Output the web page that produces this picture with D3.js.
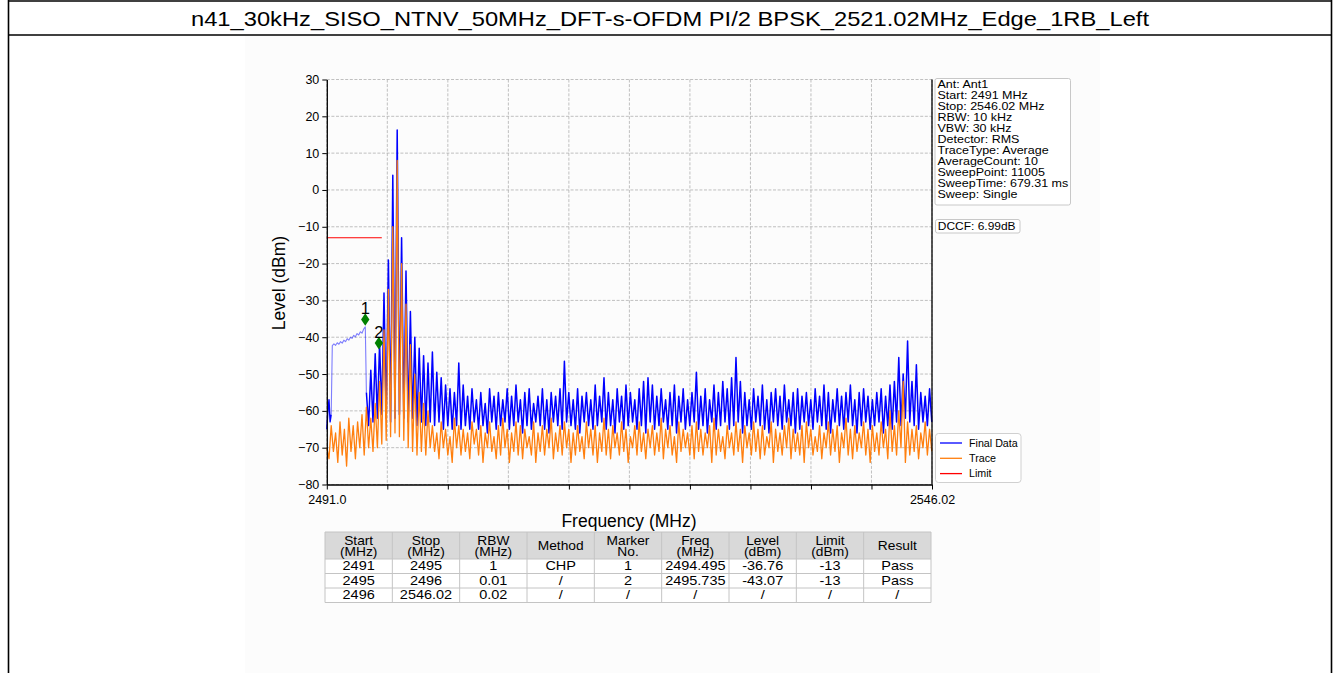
<!DOCTYPE html>
<html>
<head>
<meta charset="utf-8">
<script src="https://cdn.jsdelivr.net/npm/d3@7"></script>
<style>
  html, body { margin: 0; padding: 0; background: #ffffff; }
  svg { display: block; }
  text { font-family: "Liberation Sans", Arial, Helvetica, sans-serif; fill: #000; }
</style>
</head>
<body>
<svg id="chart" width="1340" height="673"></svg>
<script>
// ---------------- DATA ----------------
const titleText = "n41_30kHz_SISO_NTNV_50MHz_DFT-s-OFDM PI/2 BPSK_2521.02MHz_Edge_1RB_Left";

const freqDomain = [2491.0, 2546.02];
const levelDomain = [-80, 30];
const yTicks = [30, 20, 10, 0, -10, -20, -30, -40, -50, -60, -70, -80];
const xTicks = [2491.0, 2496.502, 2502.004, 2507.506, 2513.008, 2518.51, 2524.012, 2529.514, 2535.016, 2540.518, 2546.02];
const xTickLabels = ["2491.0", "", "", "", "", "", "", "", "", "", "2546.02"];

// Final Data: head noise (start 2491.0, step 0.1 MHz)
const headStart = 2491.0, headStep = 0.1;
const headLevels = [-65, -60, -57, -63, -61];

// Final Data: CHP segment (start 2491.5, step 0.15 MHz)
const chpStart = 2491.5, chpStep = 0.15;
const chpLevels = [-42.3, -41.8, -42.2, -41.5, -41.9, -41.2, -41.6, -40.8, -41.2, -40.4, -40.8,
  -40.0, -40.3, -39.5, -39.9, -39.0, -39.4, -38.5, -38.9, -37.8, -37.2];

// Final Data: comb (start 2494.6, step 0.2 MHz)
const combStart = 2494.6, combStep = 0.2;
const combLevels = [
  -55,-64,-49,-63,-44.5,-62,-41.5,-61,-28,-62,-19,-63,4,-62,16.3,-61,-13,-62,-22,-63,
  -33,-62,-40,-64,-43,-63,-45,-64,-47,-63,-44,-64,-49.5,-63,-51,-65,-53,-64,-54,-65,
  -55,-64,-47,-65,
  -53,-64,-56,-65,-54,-63,-57,-65,-55,-64,-58,-66,-54,-63,-56,-65,-55,-64,-57,-63,
  -54,-65,-56,-64,-53,-63,-57,-66,-55,-64,-54,-65,-58,-63,-56,-64,-54,-65,-57,-66,
  -55,-63,-56,-64,-54,-65,-46.5,-63,-55,-64,-57,-65,-54,-66,-56,-63,-55,-64,-57,-65,
  -53,-64,-56,-63,-51,-65,-55,-64,-57,-66,-54,-63,-56,-65,-53,-64,-55,-63,-57,-65,
  -54,-64,-52,-66,-51,-63,-53,-65,-56,-64,-54,-63,-57,-65,-55,-64,-53,-66,-56,-63,
  -54,-65,-57,-64,-55,-63,-49.5,-65,-56,-64,-54,-66,-57,-63,-53,-65,-55,-64,-52,-63,
  -54,-65,-51,-64,-45.5,-63,-52,-66,-55,-64,-57,-65,-54,-63,-56,-64,-53,-65,-57,-66,
  -55,-63,-54,-64,-56,-65,-53,-63,-57,-64,-55,-66,-54,-65,-56,-63,-55,-64,-57,-65,
  -54,-63,-56,-64,-53,-65,-55,-66,-57,-63,-54,-64,-56,-65,-55,-63,-53,-64,-57,-66,
  -55,-64,-54,-63,-56,-65,-57,-64,-55,-63,-54,-66,-56,-64,-53,-65,-52,-63,-45.5,-64,
  -50,-62,-41,-63,-52,-64,-47.5,-65,-55,-63,-56,-64,-54,-63
];

// Trace (start 2491.0, step 0.2 MHz)
const traceStart = 2491.0, traceStep = 0.2;
const traceLevels = [
  -70,-73,-64,-71,-66,-74,-63,-72,-65,-75,-62,-71,-64,-73,-63,-70,-61,-72,
  -59,-70,-62,-71,-58,-70,-52,-69,-38,-68,-27,-67,-10,-66,8,-67,-20,-68,-31,-70,-42,-71,
  -50,-72,-55,-71,-58,-72,-60,-70,
  -64,-71,-66,-73,-63,-70,-65,-72,-67,-74,-62,-70,-64,-72,-65,-71,-66,-73,-63,-69,
  -65,-72,-64,-74,-66,-70,-63,-71,-67,-73,-64,-72,-62,-70,-65,-74,-66,-71,-63,-72,
  -64,-73,-65,-70,-67,-72,-63,-74,-66,-71,-64,-72,-65,-70,-62,-73,-66,-71,-64,-72,
  -63,-70,-65,-74,-66,-72,-64,-71,-67,-73,-63,-70,-65,-72,-64,-74,-66,-71,-62,-72,
  -65,-73,-64,-70,-66,-72,-63,-71,-65,-74,-67,-70,-64,-72,-63,-71,-66,-73,-65,-70,
  -64,-72,-66,-71,-62,-73,-65,-70,-64,-72,-67,-74,-63,-71,-65,-70,-66,-72,-64,-73,
  -63,-71,-65,-72,-66,-70,-64,-74,-62,-72,-65,-71,-67,-73,-64,-70,-66,-72,-63,-71,
  -65,-74,-64,-70,-66,-72,-63,-71,-65,-73,-64,-72,-67,-70,-63,-74,-65,-71,-66,-72,
  -64,-70,-62,-73,-65,-71,-66,-72,-64,-74,-63,-70,-65,-72,-67,-71,-64,-73,-66,-70,
  -63,-72,-65,-71,-64,-74,-66,-70,-62,-72,-65,-73,-64,-71,-66,-70,-63,-72,-65,-74,
  -64,-71,-66,-72,-63,-70,-65,-73,-60,-71,-64,-72,-60,-70,-52,-74,-63,-72,-65,-71,
  -64,-73,-66,-70,-63,-72,-65,-71
];

// Limit line
const limitFreqs = [2491.0, 2496.0];
const limitLevels = [-13, -13];

// Markers
const markerIds = ["1", "2"];
const markerFreqs = [2494.495, 2495.735];
const markerLevels = [-35.2, -41.6];

// Info boxes
const infoLines = ["Ant: Ant1", "Start: 2491 MHz", "Stop: 2546.02 MHz", "RBW: 10 kHz", "VBW: 30 kHz",
  "Detector: RMS", "TraceType: Average", "AverageCount: 10", "SweepPoint: 11005", "SweepTime: 679.31 ms", "Sweep: Single"];
const dccfText = "DCCF: 6.99dB";

// Legend
const legendNames = ["Final Data", "Trace", "Limit"];
const legendColors = ["#0000ff", "#ff7f0e", "#ff0000"];

// Table
const tableHeader = [["Start", "(MHz)"], ["Stop", "(MHz)"], ["RBW", "(MHz)"], ["Method"], ["Marker", "No."],
  ["Freq", "(MHz)"], ["Level", "(dBm)"], ["Limit", "(dBm)"], ["Result"]];
const tableRows = [
  ["2491", "2495", "1", "CHP", "1", "2494.495", "-36.76", "-13", "Pass"],
  ["2495", "2496", "0.01", "/", "2", "2495.735", "-43.07", "-13", "Pass"],
  ["2496", "2546.02", "0.02", "/", "/", "/", "/", "/", "/"]
];

// ---------------- DRAW ----------------
const svg = d3.select("#chart");
const FONT = '"Liberation Sans", Arial, Helvetica, sans-serif';

// helper: horizontally stretched text
const sText = (parent, str, tx, ty, size, sx, anchor) =>
  parent.append("text").attr("transform", `translate(${tx},${ty}) scale(${sx},1)`)
    .attr("text-anchor", anchor || "start").attr("font-size", size).text(str);

// page frame
svg.append("rect").attr("x", 245).attr("y", 36).attr("width", 855).attr("height", 637).attr("fill", "#fcfcfc");
const frame = svg.append("g").attr("stroke", "#000").attr("stroke-width", 1.6).attr("fill", "none");
frame.append("line").attr("x1", 8).attr("x2", 1332).attr("y1", 1).attr("y2", 1);
frame.append("line").attr("x1", 8).attr("x2", 1332).attr("y1", 35).attr("y2", 35);
frame.append("line").attr("x1", 8.5).attr("x2", 8.5).attr("y1", 0).attr("y2", 673);
frame.append("line").attr("x1", 1331.5).attr("x2", 1331.5).attr("y1", 0).attr("y2", 673);

svg.append("text").attr("x", 670).attr("y", 26).attr("text-anchor", "middle")
  .attr("font-size", 21).attr("textLength", 958).attr("lengthAdjust", "spacingAndGlyphs")
  .text(titleText);

const X0 = 326.8, X1 = 932, Y0 = 79.5, Y1 = 484.5;
const x = d3.scaleLinear().domain(freqDomain).range([X0, X1]);
const y = d3.scaleLinear().domain(levelDomain).range([Y1, Y0]);

// grid
const grid = svg.append("g").attr("stroke", "#b0b0b0").attr("stroke-width", 0.8).attr("stroke-dasharray", "3,1.6");
grid.selectAll(".gy").data(yTicks).join("line")
  .attr("x1", X0).attr("x2", X1).attr("y1", d => y(d)).attr("y2", d => y(d));
grid.selectAll(".gx").data(xTicks).join("line")
  .attr("x1", d => x(d)).attr("x2", d => x(d)).attr("y1", Y0).attr("y2", Y1);

// series
const line = d3.line().x(d => x(d.f)).y(d => y(d.v));
const headPts = headLevels.map((v, i) => ({ f: headStart + i * headStep, v }));
const chpPts = chpLevels.map((v, i) => ({ f: chpStart + i * chpStep, v }));
const combPts = combLevels.map((v, i) => ({ f: combStart + i * combStep, v }));
const tracePts = traceLevels.map((v, i) => ({ f: traceStart + i * traceStep, v }));

const plot = svg.append("g").attr("fill", "none").attr("stroke-linejoin", "round");
plot.append("path").datum(headPts).attr("d", line).attr("stroke", "#0000ff").attr("stroke-width", 1.4);
plot.append("path").datum([headPts[headPts.length - 1], ...chpPts, combPts[0]]).attr("d", line)
  .attr("stroke", "#0000ff").attr("stroke-opacity", 0.5).attr("stroke-width", 1.1);
plot.append("path").datum(combPts).attr("d", line).attr("stroke", "#0000ff").attr("stroke-width", 1.5);
plot.append("path").datum(tracePts).attr("d", line).attr("stroke", "#ff7f0e").attr("stroke-width", 1.3);
plot.append("path").datum(limitFreqs.map((f, i) => ({ f, v: limitLevels[i] }))).attr("d", line)
  .attr("stroke", "#ff0000").attr("stroke-width", 1.1);

// markers
const mk = svg.append("g");
markerIds.forEach((id, i) => {
  const mx = x(markerFreqs[i]), my = y(markerLevels[i]);
  mk.append("path").attr("d", "M0,-6.3L4.2,0L0,6.3L-4.2,0Z").attr("transform", `translate(${mx},${my})`)
    .attr("fill", "#008000");
  mk.append("text").attr("x", mx).attr("y", my - 5.5).attr("text-anchor", "middle").attr("font-size", 16.5).text(id);
});

// axes
const fmtY = d => d < 0 ? "\u2212" + Math.abs(d) : String(d);
const gy = svg.append("g").attr("transform", `translate(${X0},0)`)
  .call(d3.axisLeft(y).tickValues(yTicks).tickFormat(fmtY).tickSize(4.5).tickSizeOuter(0).tickPadding(3));
const gx = svg.append("g").attr("transform", `translate(0,${Y1})`)
  .call(d3.axisBottom(x).tickValues(xTicks).tickFormat((d, i) => xTickLabels[i]).tickSize(5).tickSizeOuter(0).tickPadding(5.5));
[gy, gx].forEach(g => {
  g.select(".domain").attr("stroke", "#000").attr("stroke-width", 1.3);
  g.selectAll(".tick line").attr("stroke", "#000").attr("stroke-width", 1);
  g.selectAll(".tick text").attr("font-size", 12.5).attr("font-family", FONT).attr("fill", "#000");
});
svg.append("line").attr("x1", X1).attr("x2", X1).attr("y1", Y0).attr("y2", Y1).attr("stroke", "#000").attr("stroke-width", 1.3);

svg.append("text").attr("x", 629).attr("y", 527).attr("text-anchor", "middle").attr("font-size", 17.5).text("Frequency (MHz)");
svg.append("text").attr("transform", `translate(285,283) rotate(-90)`).attr("text-anchor", "middle").attr("font-size", 17.5).text("Level (dBm)");

// info box
svg.append("rect").attr("x", 935).attr("y", 78.5).attr("width", 135.5).attr("height", 126.5).attr("rx", 2)
  .attr("fill", "#fff").attr("stroke", "#c8c8c8").attr("stroke-width", 1);
infoLines.forEach((t, i) => sText(svg, t, 937.5, 87.6 + i * 11.05, 10.6, 1.18));
svg.append("rect").attr("x", 935.5).attr("y", 219.5).attr("width", 84.5).attr("height", 13.5).attr("rx", 2)
  .attr("fill", "#fff").attr("stroke", "#c8c8c8").attr("stroke-width", 1);
sText(svg, dccfText, 937.8, 230.4, 10.6, 1.13);

// legend
svg.append("rect").attr("x", 935.5).attr("y", 433.5).attr("width", 85.5).attr("height", 49).attr("rx", 3)
  .attr("fill", "#fff").attr("stroke", "#d0d0d0").attr("stroke-width", 1);
legendNames.forEach((n, i) => {
  const ly = 443 + i * 15.3;
  svg.append("line").attr("x1", 940).attr("x2", 962).attr("y1", ly).attr("y2", ly)
    .attr("stroke", legendColors[i]).attr("stroke-width", 1.3);
  sText(svg, n, 969, ly + 3.7, 10.2, 1.05);
});

// table
const TX0 = 325, TX1 = 931, colW = (TX1 - TX0) / 9;
const hTop = 532, hBot = 559, rowH = 14.5;
const tbl = svg.append("g");
tbl.append("rect").attr("x", TX0).attr("y", hTop).attr("width", TX1 - TX0).attr("height", hBot - hTop).attr("fill", "#d9d9d9");
tbl.append("rect").attr("x", TX0).attr("y", hBot).attr("width", TX1 - TX0).attr("height", rowH * 3).attr("fill", "#ffffff");
const borders = tbl.append("g").attr("stroke", "#c4c4c4").attr("stroke-width", 1);
[hTop, hBot, hBot + rowH, hBot + 2 * rowH, hBot + 3 * rowH].forEach(yy =>
  borders.append("line").attr("x1", TX0).attr("x2", TX1).attr("y1", yy).attr("y2", yy));
d3.range(10).forEach(c => borders.append("line").attr("x1", TX0 + c * colW).attr("x2", TX0 + c * colW)
  .attr("y1", hTop).attr("y2", hBot + 3 * rowH));
tableHeader.forEach((lines, c) => {
  const cx = TX0 + (c + 0.5) * colW;
  if (lines.length === 2) {
    sText(tbl, lines[0], cx, 544.5, 12.3, 1.12, "middle");
    sText(tbl, lines[1], cx, 556.3, 12.3, 1.12, "middle");
  } else {
    sText(tbl, lines[0], cx, 550, 12.3, 1.12, "middle");
  }
});
tableRows.forEach((row, r) => {
  row.forEach((val, c) => {
    const cx = TX0 + (c + 0.5) * colW;
    sText(tbl, val, cx, hBot + r * rowH + 11.4, 12.5, 1.16, "middle");
  });
});
</script>
</body>
</html>
